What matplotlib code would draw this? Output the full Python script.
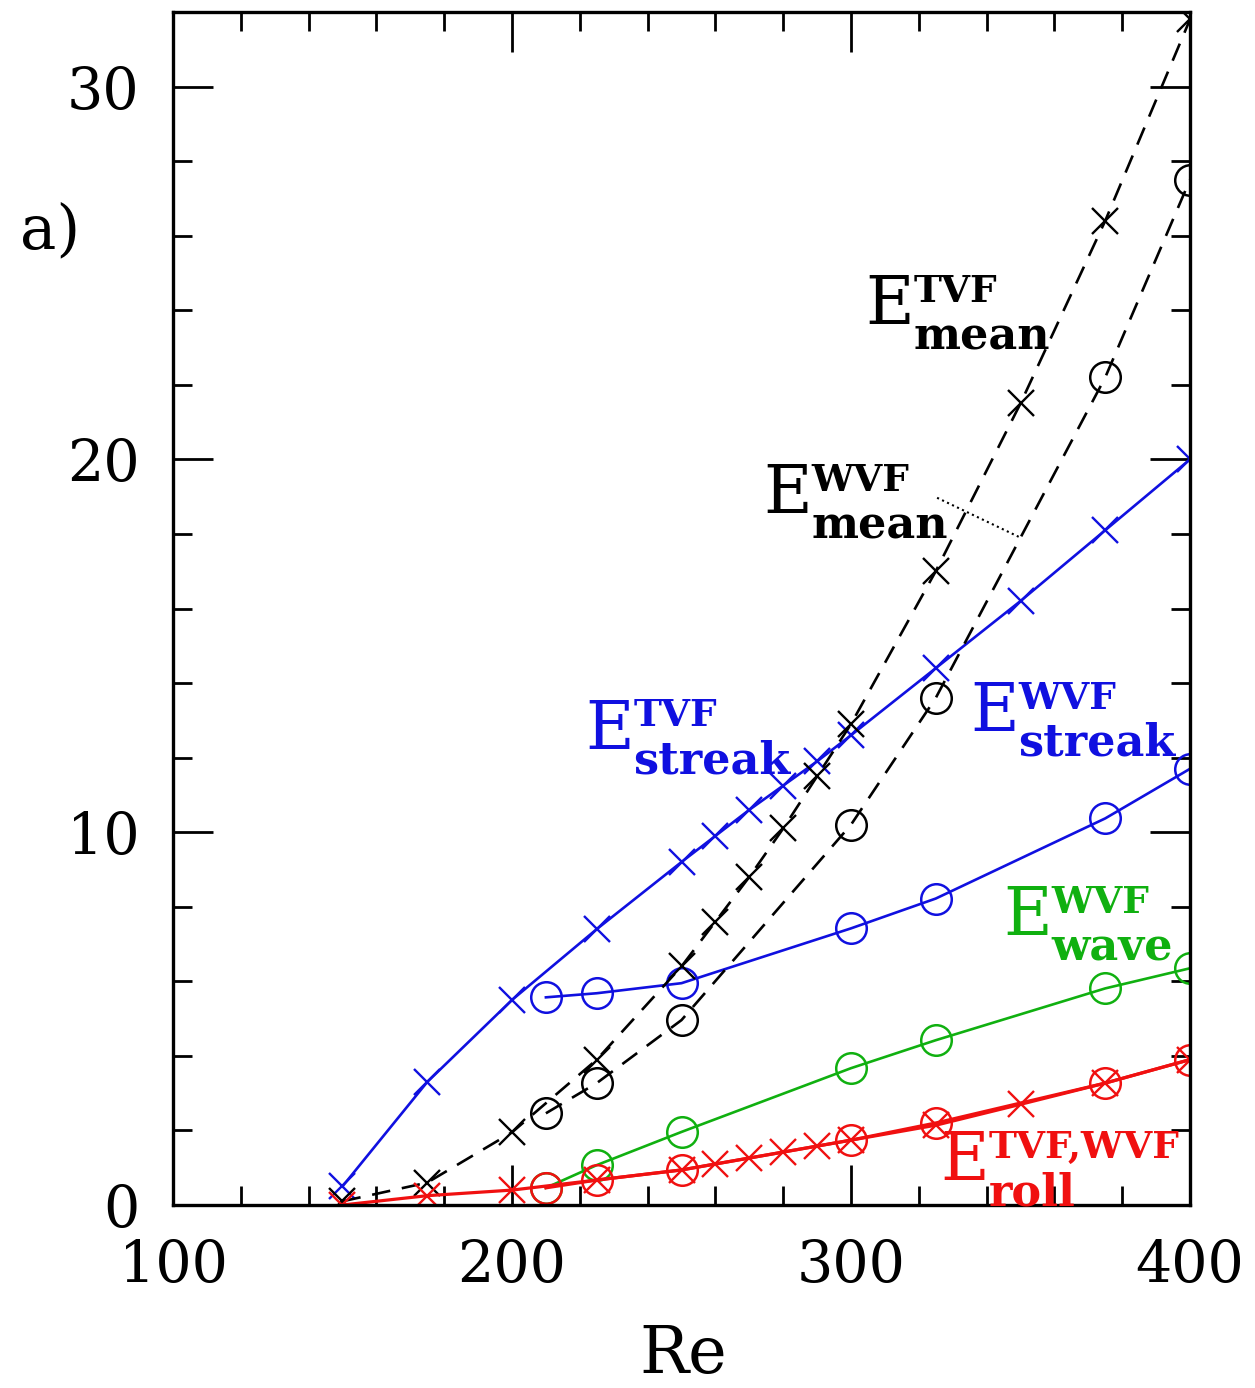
import numpy as np
import matplotlib
matplotlib.use('Agg')
import matplotlib.pyplot as plt
from matplotlib.ticker import MultipleLocator

plt.rcParams['font.family'] = 'DejaVu Serif'

## TVF branch (crosses)
re_tvf = [150, 175, 200, 225, 250, 260, 270, 280, 290, 300, 325, 350, 375, 400]
streak_tvf = [0.5, 3.3, 5.5, 7.4, 9.2, 9.9, 10.6, 11.25, 11.9, 12.6, 14.4, 16.2, 18.1, 20.0]
mean_tvf = [0.1, 0.6, 1.95, 3.9, 6.4, 7.6, 8.8, 10.1, 11.5, 12.9, 17.0, 21.5, 26.4, 31.8]
roll_tvf = [0.0, 0.25, 0.4, 0.67, 0.94, 1.1, 1.26, 1.42, 1.58, 1.74, 2.14, 2.7, 3.27, 3.9]

## WVF branch (circles)
re_wvf = [210, 225, 250, 300, 325, 375, 400]
streak_wvf = [5.57, 5.68, 5.95, 7.42, 8.22, 10.37, 11.7]
mean_wvf = [2.46, 3.27, 4.96, 10.2, 13.6, 22.2, 27.5]
wave_wvf = [0.46, 1.07, 1.96, 3.67, 4.42, 5.81, 6.35]
roll_wvf = [0.46, 0.67, 0.94, 1.74, 2.2, 3.27, 3.9]

blue = '#1010e0'
green = '#10b010'
red = '#f01010'

fig = plt.figure(figsize=(12.55, 13.88), dpi=100)
ax = fig.add_axes([173/1255, 1-1205/1388, 1017/1255, 1193/1388])

cross = dict(marker='x', markersize=19, markeredgewidth=1.7)
circ = dict(marker='o', markersize=22, markeredgewidth=1.8, markerfacecolor='none')

ax.plot(re_tvf, streak_tvf, color=blue, lw=1.9, **cross)
ax.plot(re_wvf, streak_wvf, color=blue, lw=1.9, markeredgecolor=blue, **circ)
ax.plot(re_tvf, mean_tvf, color='k', lw=1.9, ls=(0, (7, 4.5)), **cross)
ax.plot(re_wvf, mean_wvf, color='k', lw=1.9, ls=(0, (7, 4.5)), markeredgecolor='k', **circ)
ax.plot(re_wvf, wave_wvf, color=green, lw=1.9, markeredgecolor=green, **circ)
ax.plot(re_tvf, roll_tvf, color=red, lw=2.3, **cross)
ax.plot(re_wvf, roll_wvf, color=red, lw=2.3, markeredgecolor=red, **circ)

## leader from E_mean^WVF to its curve
ax.plot([325.4, 350], [18.97, 17.9], color='k', lw=1.5, ls=':')

ax.set_xlim(100, 400)
ax.set_ylim(0, 32)
ax.xaxis.set_major_locator(MultipleLocator(100))
ax.xaxis.set_minor_locator(MultipleLocator(20))
ax.yaxis.set_major_locator(MultipleLocator(10))
ax.yaxis.set_minor_locator(MultipleLocator(2))
ax.tick_params(which='both', direction='in', top=True, right=True, width=2, labelsize=41, pad=24)
ax.tick_params(which='major', length=29)
ax.tick_params(which='minor', length=14)
for s in ax.spines.values():
    s.set_linewidth(2.4)


def elabel(x, y, sup, sub, color):
    ax.text(x, y, 'E', fontsize=48, color=color, ha='left', va='baseline')
    ax.annotate(sup, (x, y), xytext=(35, 16), textcoords='offset points',
                fontsize=27, weight='bold', color=color, ha='left', va='baseline')
    ax.annotate(sub, (x, y), xytext=(35, -18), textcoords='offset points',
                fontsize=32, weight='bold', color=color, ha='left', va='baseline')


elabel(304.1, 23.63, 'TVF', 'mean', 'k')
elabel(274.0, 18.56, 'WVF', 'mean', 'k')
elabel(221.5, 12.24, 'TVF', 'streak', blue)
elabel(335.1, 12.72, 'WVF', 'streak', blue)
elabel(344.8, 7.23, 'WVF', 'wave', green)
elabel(326.3, 0.67, 'TVF,WVF', 'roll', red)

fig.text(683/1255, 1-1355/1388, 'Re', fontsize=47, ha='center', va='center')
fig.text(20/1255, 1-248/1388, 'a)', fontsize=44, ha='left', va='baseline')

fig.savefig('out.png', dpi=100)
